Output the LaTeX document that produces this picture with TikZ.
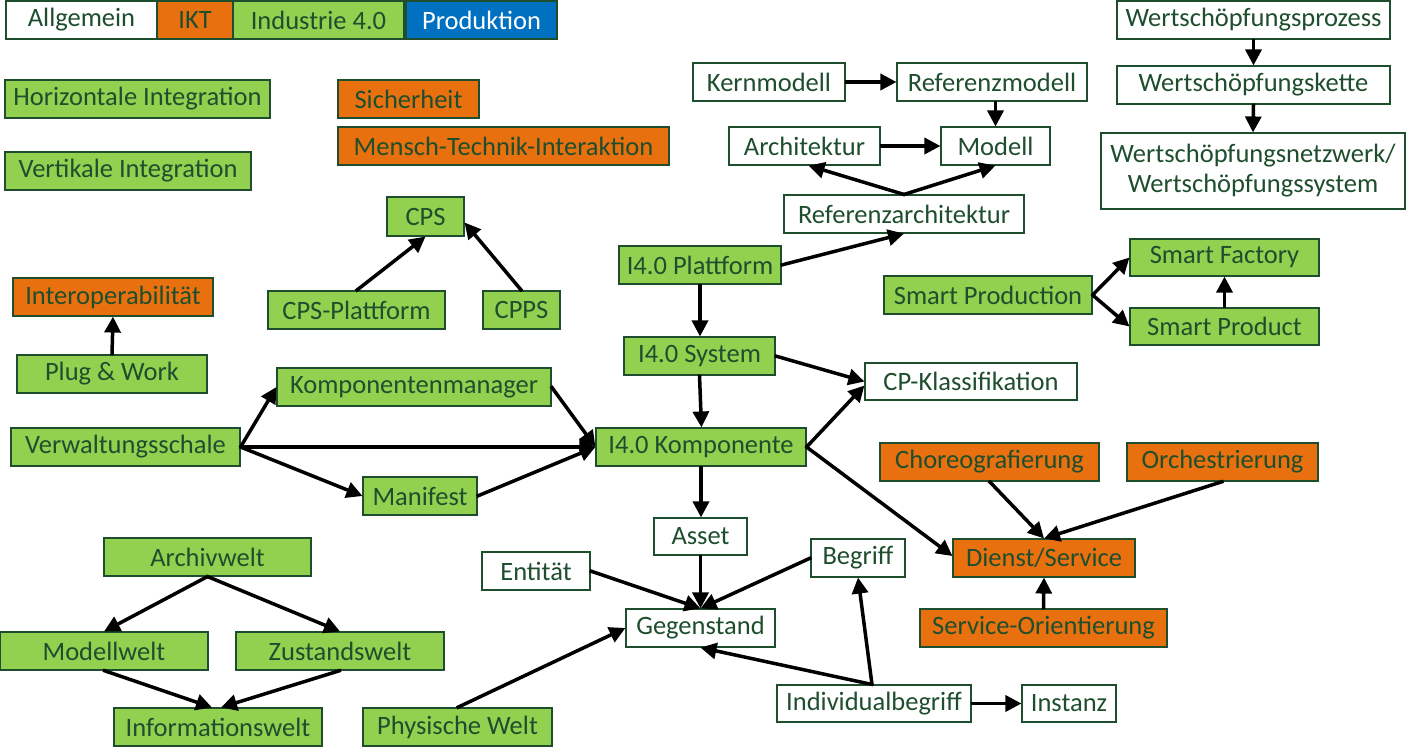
\documentclass[tikz,border=0pt]{standalone}
\usepackage{fontspec}
\setmainfont{Carlito}
\usetikzlibrary{arrows.meta}
\definecolor{tgreen}{RGB}{30,78,45}
\definecolor{fgreen}{HTML}{92D050}
\definecolor{forange}{HTML}{E8700F}
\definecolor{fblue}{HTML}{0070C0}
\tikzset{
  box/.style={draw=tgreen, line width=1.1pt, text=tgreen, inner sep=0pt, minimum height=38pt,
    font=\fontsize{26.5}{30}\selectfont, align=center},
  wbox/.style={box, fill=white},
  gbox/.style={box, fill=fgreen},
  obox/.style={box, fill=forange},
  bbox/.style={box, fill=fblue, text=white},
  arr/.style={line width=3.5pt, -{Triangle[length=16pt,width=16pt]}, shorten <=-1pt}
}
\begin{document}
\begin{tikzpicture}[x=1pt,y=-1pt]
\useasboundingbox (0,0) rectangle (1406,747);
% legend
\node[wbox, minimum width=151pt] (allg) at (81.5,20) {Allgemein};
\node[obox, minimum width=76pt] (ikt) at (195,20) {IKT};
\node[gbox, minimum width=171pt] (ind) at (318.5,20) {Industrie 4.0};
\node[bbox, minimum width=151pt] (prod) at (481.5,20) {Produktion};
% standalone
\node[gbox, minimum width=265pt] (horiz) at (137.5,99) {Horizontale Integration};
\node[gbox, minimum width=246pt] (vert) at (128,171) {Vertikale Integration};
\node[obox, minimum width=141pt] (sich) at (408.5,99) {Sicherheit};
\node[obox, minimum width=331pt] (mti) at (503.5,146) {Mensch-Technik-Interaktion};
% model cluster
\node[wbox, minimum width=152pt] (kern) at (769,82) {Kernmodell};
\node[wbox, minimum width=190pt] (refm) at (992,82) {Referenzmodell};
\node[wbox, minimum width=151pt] (arch) at (804.5,146) {Architektur};
\node[wbox, minimum width=109pt] (mod) at (995.5,146) {Modell};
\node[wbox, minimum width=240pt] (refa) at (904,214) {Referenzarchitektur};
% value chain
\node[wbox, minimum width=273pt] (wsp) at (1253.5,20) {Wertschöpfungsprozess};
\node[wbox, minimum width=273pt] (wsk) at (1253.5,85) {Wertschöpfungskette};
\node[wbox, minimum width=304pt, minimum height=76pt] (wsn) at (1253,171) {Wertschöpfungsnetzwerk/\\Wertschöpfungssystem};
% CPS
\node[gbox, minimum width=77pt, minimum height=39pt] (cps) at (425.5,216.5) {CPS};
\node[gbox, minimum width=177pt] (cpsp) at (356.5,310) {CPS-Plattform};
\node[gbox, minimum width=77pt] (cpps) at (521.5,310) {CPPS};
% I4.0
\node[gbox, minimum width=162pt] (i4p) at (700,265) {I4.0 Plattform};
\node[gbox, minimum width=151pt] (i4s) at (699.5,356) {I4.0 System};
\node[gbox, minimum width=210pt] (i4k) at (701,447) {I4.0 Komponente};
\node[wbox, minimum width=212pt, minimum height=37pt] (cpk) at (971,381.5) {CP-Klassifikation};
% smart
\node[gbox, minimum width=189pt, minimum height=37pt] (sf) at (1224.5,257.5) {Smart Factory};
\node[gbox, minimum width=208pt] (sprod) at (988,295) {Smart Production};
\node[gbox, minimum width=189pt, minimum height=37pt] (sprodt) at (1224.5,326.5) {Smart Product};
% left
\node[obox, minimum width=200pt] (inter) at (113,297) {Interoperabilität};
\node[gbox, minimum width=190pt] (plug) at (112,374) {Plug \& Work};
\node[gbox, minimum width=274pt] (km) at (414,387) {Komponentenmanager};
\node[gbox, minimum width=229pt] (vs) at (125.5,447) {Verwaltungsschale};
\node[gbox, minimum width=114pt] (man) at (420,496) {Manifest};
% service
\node[obox, minimum width=219pt] (chor) at (989.5,462) {Choreografierung};
\node[obox, minimum width=191pt] (orch) at (1222.5,462) {Orchestrierung};
\node[obox, minimum width=182pt] (dienst) at (1044,558) {Dienst/Service};
\node[obox, minimum width=247pt] (so) at (1043.5,628) {Service-Orientierung};
% Gegenstand
\node[wbox, minimum width=93pt, minimum height=37pt] (asset) at (700.5,536.5) {Asset};
\node[wbox, minimum width=108pt] (ent) at (536,571) {Entität};
\node[wbox, minimum width=94pt] (begr) at (858,558) {Begriff};
\node[wbox, minimum width=149pt] (gegen) at (700.5,628) {Gegenstand};
\node[wbox, minimum width=194pt, minimum height=37pt] (indiv) at (874,703.5) {Individualbegriff};
\node[wbox, minimum width=94pt, minimum height=37pt] (inst) at (1069,703.5) {Instanz};
% worlds
\node[gbox, minimum width=207pt] (archiv) at (207.5,557) {Archivwelt};
\node[gbox, minimum width=208pt] (modw) at (104,651) {Modellwelt};
\node[gbox, minimum width=208pt] (zust) at (340,651) {Zustandswelt};
\node[gbox, minimum width=208pt] (info) at (218,727) {Informationswelt};
\node[gbox, minimum width=189pt] (phys) at (457.5,727) {Physische Welt};
% arrows
\draw[arr] (kern.east) -- (refm.west);
\draw[arr] (mod.north |- refm.south) -- (mod.north);
\draw[arr] (arch.east) -- (mod.west);
\draw[arr] (refa.north) -- ([xshift=4pt]arch.south);
\draw[arr] (refa.north) -- (mod.south);
\draw[arr] (i4p.east) -- (refa.south);
\draw[arr] (wsp.south) -- (wsk.north);
\draw[arr] (wsk.south) -- (wsn.north);
\draw[arr] (cpsp.north) -- (cps.south);
\draw[arr] (cpps.north) -- ([yshift=-6pt]cps.east);
\draw[arr] (plug.north) -- (inter.south);
\draw[arr] (i4p.south) -- (i4p.south |- i4s.north);
\draw[arr] (i4s.south) -- ([xshift=2pt]i4s.south |- i4k.north);
\draw[arr] (i4s.east) -- (cpk.west);
\draw[arr] (i4k.east) -- ([yshift=-4pt]cpk.west);
\draw[arr] (i4k.east) -- ([yshift=2pt]dienst.west);
\draw[arr] (sprod.east) -- (sf.west);
\draw[arr] (sprod.east) -- (sprodt.west);
\draw[arr] (sprodt.north) -- (sf.south);
\draw[arr] (vs.east) -- (km.west);
\draw[arr] (vs.east) -- (i4k.west);
\draw[arr] (vs.east) -- (man.west);
\draw[arr] (km.east) -- (i4k.west);
\draw[arr] (man.east) -- (i4k.west);
\draw[arr] (i4k.south) -- (i4k.south |- asset.north);
\draw[arr] (asset.south) -- (asset.south |- gegen.north);
\draw[arr] (ent.east) -- (gegen.north);
\draw[arr] (begr.west) -- (gegen.north);
\draw[arr] (chor.south) -- (dienst.north);
\draw[arr] (orch.south) -- (dienst.north);
\draw[arr] (so.north) -- (dienst.south);
\draw[arr] (phys.north) -- (gegen.west);
\draw[arr] ([xshift=-2pt]indiv.north) -- (gegen.south);
\draw[arr] ([xshift=-2pt]indiv.north) -- (begr.south);
\draw[arr] (indiv.east) -- (inst.west);
\draw[arr] (archiv.south) -- (modw.north);
\draw[arr] (archiv.south) -- (zust.north);
\draw[arr] (modw.south) -- ([xshift=-6pt]info.north);
\draw[arr] (zust.south) -- ([xshift=3pt]info.north);
\end{tikzpicture}
\end{document}
